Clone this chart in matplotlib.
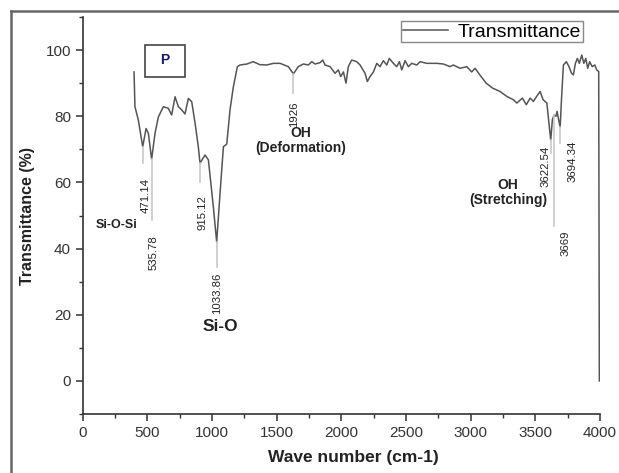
import matplotlib
matplotlib.use("Agg")
import numpy as np
from matplotlib import pyplot as plt
from matplotlib.lines import Line2D
from matplotlib.patches import Rectangle
from matplotlib.ticker import MultipleLocator

plt.rcParams['font.family'] = ['Liberation Sans', 'DejaVu Sans']

# FTIR spectrum
wavenumber = [397, 404, 430, 464, 490, 508, 533, 559, 585, 624, 662, 688, 714, 740, 766,
              791, 817, 843, 869, 894, 907, 946, 972, 1010, 1036, 1062, 1088, 1114, 1139,
              1165, 1196, 1217, 1270, 1318, 1370, 1423, 1475, 1526, 1590, 1629, 1667, 1706,
              1745, 1771, 1797, 1835, 1856, 1874, 1913, 1951, 1977, 1995, 2016, 2036, 2054,
              2080, 2119, 2145, 2183, 2201, 2222, 2248, 2274, 2299, 2325, 2351, 2371, 2402,
              2428, 2449, 2467, 2493, 2518, 2544, 2583, 2609, 2660, 2738, 2789, 2841, 2866,
              2918, 2970, 3008, 3034, 3073, 3120, 3170, 3227, 3280, 3330, 3357, 3400, 3430,
              3460, 3485, 3510, 3537, 3560, 3589, 3605, 3619, 3632, 3645, 3660, 3668, 3680,
              3692, 3702, 3717, 3740, 3760, 3780, 3794, 3810, 3825, 3840, 3859, 3875, 3890,
              3905, 3920, 3940, 3960, 3975, 3990, 3995]
transmittance = [93.4, 82.9, 78.9, 70.8, 76.3, 74.8, 67.0, 74.8, 79.8, 82.9, 82.4, 80.4, 85.9,
                 82.9, 81.9, 80.7, 85.4, 84.4, 77.9, 70.8, 65.8, 68.3, 66.8, 52.7, 42.0, 56.7,
                 70.8, 71.6, 81.9, 88.9, 95.0, 95.5, 95.8, 96.5, 95.6, 95.5, 96.0, 96.0, 95.0,
                 92.8, 95.0, 95.8, 95.5, 96.5, 95.8, 96.2, 97.0, 95.5, 95.0, 93.0, 94.0, 92.0,
                 93.4, 90.0, 95.0, 97.0, 96.5, 95.5, 93.0, 90.5, 92.0, 93.4, 96.0, 95.0, 96.8,
                 95.5, 97.5, 96.0, 95.0, 96.5, 94.0, 96.8, 95.0, 96.0, 95.5, 96.5, 96.0, 96.0,
                 95.8, 95.0, 95.5, 94.5, 95.0, 93.4, 94.5, 92.4, 90.0, 88.5, 87.5, 86.0, 85.0,
                 84.0, 85.5, 83.5, 85.5, 84.5, 86.0, 87.5, 85.0, 84.0, 78.0, 72.8, 79.0, 80.4,
                 80.0, 81.5, 79.0, 76.7, 85.0, 95.5, 96.5, 95.0, 93.0, 92.5, 96.0, 97.5, 96.0,
                 98.5, 96.0, 97.5, 94.5, 96.5, 95.0, 95.5, 94.0, 93.5, 0.0]

# peak marker lines: x, top, bottom
peak_x = [464, 533, 907, 1036, 1629, 3619, 3645, 3692]
peak_top = [70.8, 67.0, 65.8, 42.0, 92.8, 72.8, 80.4, 76.7]
peak_bottom = [65.9, 48.6, 60.1, 34.4, 86.9, 68.9, 46.8, 71.9]

# peak number labels: text, x, y
peak_labels = ["471.14", "535.78", "915.12", "1033.86", "1926", "3622.54", "3694.34", "3669"]
peak_label_x = [490, 552, 924, 1043, 1636, 3575, 3788, 3730]
peak_label_y = [56.0, 38.8, 50.8, 26.6, 80.6, 64.8, 66.3, 41.6]

# band labels (one text per line)
band_labels = ["Si-O-Si", "Si-O", "OH", "(Deformation)", "OH", "(Stretching)"]
band_x = [265, 1063, 1688, 1688, 3290, 3290]
band_y = [47.2, 16.5, 74.8, 70.3, 59.2, 54.6]
band_size = [9, 12.5, 10, 10, 10, 10]

fig = plt.figure(figsize=(6.19, 4.73), dpi=100)
ax = fig.add_axes([0.1336, 0.1247, 0.8357, 0.8393])

# outer frame of the picture
fig.add_artist(Line2D([11 / 619, 11 / 619], [0, 1 - 11 / 473], color='#666666', lw=1.8))
fig.add_artist(Line2D([11 / 619, 1], [1 - 11 / 473, 1 - 11 / 473], color='#666666', lw=1.8))

ax.plot(wavenumber, transmittance, color='#555555', lw=1.1, label='Transmittance')

for x, top, bottom in zip(peak_x, peak_top, peak_bottom):
    ax.plot([x, x], [top, bottom], color='#c8c8c8', lw=1.2)

for txt, x, y in zip(peak_labels, peak_label_x, peak_label_y):
    ax.text(x, y, txt, rotation=90, ha='center', va='center', fontsize=8.2, color='#222222')

for txt, x, y, s in zip(band_labels, band_x, band_y, band_size):
    ax.text(x, y, txt, ha='center', va='center', fontsize=s, fontweight='bold',
            color='#222222')

# "P" panel box
ax.add_patch(Rectangle((0.1204, 0.8496), 0.0773, 0.0799, transform=ax.transAxes,
                       fill=False, edgecolor='#444444', lw=1.2, clip_on=False))
ax.text(0.159, 0.891, 'P', transform=ax.transAxes, ha='center', va='center',
        fontsize=10, fontweight='bold', color='#1a1a5a')

ax.set_xlim(0, 4000)
ax.set_ylim(-10, 110)
ax.xaxis.set_major_locator(MultipleLocator(500))
ax.xaxis.set_minor_locator(MultipleLocator(250))
ax.yaxis.set_major_locator(MultipleLocator(20))
ax.yaxis.set_minor_locator(MultipleLocator(10))
ax.set_yticks([0, 20, 40, 60, 80, 100])

ax.spines['top'].set_visible(False)
ax.spines['right'].set_visible(False)
for side in ['left', 'bottom']:
    ax.spines[side].set_color('#333333')
    ax.spines[side].set_linewidth(1.2)
ax.tick_params(which='major', direction='out', length=5, width=1.1, color='#333333',
               labelsize=11, labelcolor='#333333')
ax.tick_params(which='minor', direction='out', length=3, width=1.0, color='#333333')

ax.set_xlabel('Wave number (cm-1)', fontsize=12.5, fontweight='bold', color='#222222')
ax.xaxis.set_label_coords(0.523, -0.09)
ax.set_ylabel('Transmittance (%)', fontsize=11.5, fontweight='bold', color='#222222')
ax.yaxis.set_label_coords(-0.093, 0.5)

leg = ax.legend(loc='upper right', bbox_to_anchor=(0.9666, 0.99), borderaxespad=0,
                fontsize=14, fancybox=False, framealpha=1, edgecolor='#888888',
                handlelength=2.3, handletextpad=0.5, borderpad=0.1)
leg.get_frame().set_linewidth(1.0)

fig.savefig('out.png', dpi=100)
